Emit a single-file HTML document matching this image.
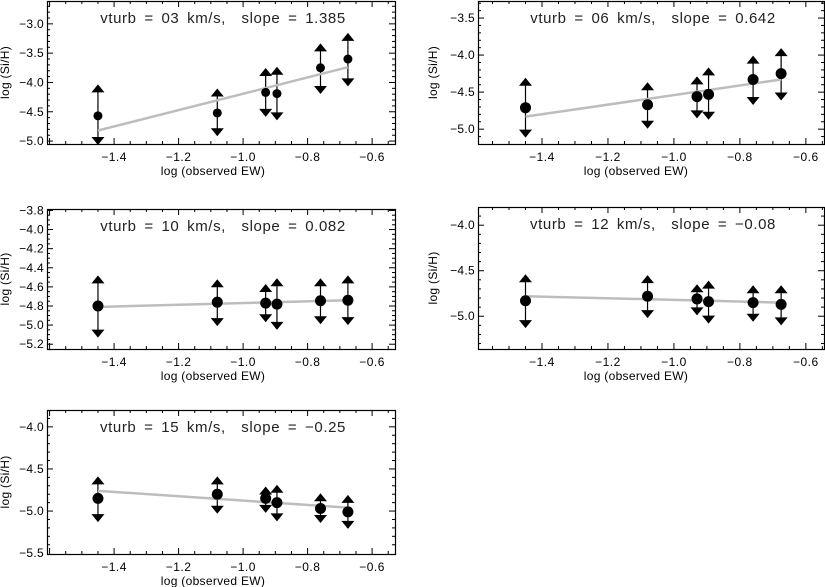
<!DOCTYPE html>
<html><head><meta charset="utf-8"><style>
html,body{margin:0;padding:0;background:#fff;}
svg{display:block;font-family:"Liberation Sans",sans-serif;}
</style></head><body>
<svg id="c" width="825" height="587" viewBox="0 0 825 587" xmlns="http://www.w3.org/2000/svg"></svg>
<script>
const xVals = [-1.45, -1.08, -0.93, -0.895, -0.76, -0.675];
const vturbs = ["03", "06", "10", "12", "15"];
const slopes = ["1.385", "0.642", "0.082", "-0.08", "-0.25"];
const pts1 = [-4.57, -4.52, -4.17, -4.19, -3.75, -3.60];
const up1 = [-4.05, -4.12, -3.77, -3.75, -3.35, -3.17];
const lo1 = [-5.05, -4.90, -4.57, -4.63, -4.18, -4.05];
const fit1 = [-4.82, -3.74];
const pts2 = [-4.71, -4.67, -4.56, -4.53, -4.33, -4.25];
const up2 = [-4.32, -4.38, -4.30, -4.18, -4.02, -3.92];
const lo2 = [-5.10, -4.98, -4.84, -4.86, -4.66, -4.60];
const fit2 = [-4.83, -4.33];
const pts3 = [-4.80, -4.76, -4.77, -4.78, -4.745, -4.74];
const up3 = [-4.49, -4.53, -4.58, -4.52, -4.52, -4.49];
const lo3 = [-5.12, -5.00, -4.96, -5.04, -4.98, -4.99];
const fit3 = [-4.81, -4.74];
const pts4 = [-4.83, -4.78, -4.81, -4.84, -4.85, -4.87];
const up4 = [-4.55, -4.56, -4.66, -4.62, -4.67, -4.67];
const lo4 = [-5.12, -5.01, -4.98, -5.07, -5.05, -5.09];
const fit4 = [-4.78, -4.85];
const pts5 = [-4.85, -4.80, -4.85, -4.90, -4.97, -5.01];
const up5 = [-4.60, -4.60, -4.72, -4.70, -4.80, -4.82];
const lo5 = [-5.12, -5.02, -5.01, -5.11, -5.13, -5.20];
const fit5 = [-4.76, -4.96];
const xTicks = [-1.4, -1.2, -1.0, -0.8, -0.6];
const yTicks1 = [-3.0, -3.5, -4.0, -4.5, -5.0];
const yTicks2 = [-3.5, -4.0, -4.5, -5.0];
const yTicks3 = [-3.8, -4.0, -4.2, -4.4, -4.6, -4.8, -5.0, -5.2];
const yTicks4 = [-4.0, -4.5, -5.0];
const yTicks5 = [-4.0, -4.5, -5.0, -5.5];

const svg = document.getElementById('c');
const NS = 'http://www.w3.org/2000/svg';
function mk(tag, attrs, parent){const e=document.createElementNS(NS,tag);for(const k in attrs)e.setAttribute(k,attrs[k]);(parent||svg).appendChild(e);return e;}
function fmt(v,d){return (v<0?'\u2212':'')+Math.abs(v).toFixed(d);}

const LX=[-1.608,-0.529], RX=[-1.594,-0.545];
const panels = [
 {box:[47,1,395,144], xr:LX, yr:[-2.61,-5.05], pts:pts1, up:up1, lo:lo1, fit:fit1, yt:yTicks1, minor:0.1, r:4.5},
 {box:[478,1,824,144], xr:RX, yr:[-3.27,-5.20], pts:pts2, up:up2, lo:lo2, fit:fit2, yt:yTicks2, minor:0.1, r:5.5},
 {box:[47,209,395,349], xr:LX, yr:[-3.785,-5.25], pts:pts3, up:up3, lo:lo3, fit:fit3, yt:yTicks3, minor:0.05, r:5.5},
 {box:[478,207,824,349], xr:RX, yr:[-3.80,-5.36], pts:pts4, up:up4, lo:lo4, fit:fit4, yt:yTicks4, minor:0.1, r:5.5},
 {box:[47,410,395,554], xr:LX, yr:[-3.80,-5.51], pts:pts5, up:up5, lo:lo5, fit:fit5, yt:yTicks5, minor:0.1, r:5.5}
];

panels.forEach((p,i)=>{
  const [x0,y0,x1,y1]=p.box;
  const g=mk('g',{});
  
  
  const X=v=>x0+(v-p.xr[0])/(p.xr[1]-p.xr[0])*(x1-x0);
  const Y=v=>y0+(v-p.yr[0])/(p.yr[1]-p.yr[0])*(y1-y0);
  const frame=mk('rect',{x:x0+0.5,y:y0+0.5,width:x1-x0,height:y1-y0,fill:'none',stroke:'#000','stroke-width':1.2},g);
  
  
  for(let k=-32;k<=-10;k++){
    const vv=k*0.05; const xx=X(vv);
    if(xx<x0+1||xx>x1-1)continue;
    const major=(k%4===0);
    const L=major?6:3;
    mk('line',{x1:xx,y1:y1,x2:xx,y2:y1-L,stroke:'#000','stroke-width':1},g);
    mk('line',{x1:xx,y1:y0,x2:xx,y2:y0+L,stroke:'#000','stroke-width':1},g);
  }
  xTicks.forEach(v=>{
    const t=mk('text',{x:X(v),y:y1+17,'font-size':12,'letter-spacing':0.5,'text-anchor':'middle',fill:'#000'},g);
    t.textContent=fmt(v,1);
    
    
  });
  const lowV=Math.min(p.yr[0],p.yr[1]), hiV=Math.max(p.yr[0],p.yr[1]);
  for(let k=Math.ceil(lowV/p.minor);k*p.minor<=hiV;k++){
    const v=k*p.minor, yy=Y(v);
    if(yy<y0+1||yy>y1-1)continue;
    const major=p.yt.some(t=>Math.abs(t-v)<1e-6);
    const L=major?6:3;
    mk('line',{x1:x0,y1:yy,x2:x0+L,y2:yy,stroke:'#000','stroke-width':1},g);
    mk('line',{x1:x1,y1:yy,x2:x1-L,y2:yy,stroke:'#000','stroke-width':1},g);
  }
  p.yt.forEach(v=>{
    const t=mk('text',{x:x0-3,y:Y(v)+4,'font-size':12,'letter-spacing':0.3,'text-anchor':'end',fill:'#000'},g);
    t.textContent=fmt(v,1);
    
    
  });
  const xl=mk('text',{x:(x0+x1)/2-(i%2?15:8),y:y1+31,'font-size':12,'letter-spacing':0.3,'text-anchor':'middle',fill:'#000'},g);
  xl.textContent='log (observed EW)';
  
  
  const lx=i%2?437:9, ly=(y0+y1)/2;
  const yl=mk('text',{x:lx,y:ly,'font-size':12,'letter-spacing':0.3,'text-anchor':'middle',fill:'#000',transform:`rotate(-90 ${lx} ${ly})`},g);
  yl.textContent='log (Si/H)';
  
  
  const tt=mk('text',{x:(x0+x1)/2+2,y:y0+22,'font-size':15,'letter-spacing':0.6,'text-anchor':'middle',fill:'#222'},g);
  tt.textContent='vturb = '+vturbs[i]+' km/s,  slope = '+slopes[i].replace('-','\u2212');
  tt.style.whiteSpace='pre';
  tt.style.wordSpacing='3px';
  
  
  xVals.forEach((xv,j)=>{
    const xx=X(xv), yu=Y(p.up[j]), yd=Y(p.lo[j]);
    const bar=mk('line',{x1:xx,y1:yu,x2:xx,y2:yd,stroke:'#000','stroke-width':1.2},g);
    
    
    const a1=mk('polygon',{points:`${xx-6.5},${yu+7} ${xx+6.5},${yu+7} ${xx},${yu-1}`,fill:'#000'},g);
    
    
    const a2=mk('polygon',{points:`${xx-6.5},${yd-7} ${xx+6.5},${yd-7} ${xx},${yd+1}`,fill:'#000'},g);
    
    
  });
  const fl=mk('line',{x1:X(xVals[0]),y1:Y(p.fit[0]),x2:X(xVals[xVals.length-1]),y2:Y(p.fit[1]),stroke:'#bdbdbd','stroke-width':2.5},g);
  
  
  xVals.forEach((xv,j)=>{
    const c=mk('circle',{cx:X(xv),cy:Y(p.pts[j]),r:p.r,fill:'#000'},g);
    
    
  });
});
</script>
</body></html>
